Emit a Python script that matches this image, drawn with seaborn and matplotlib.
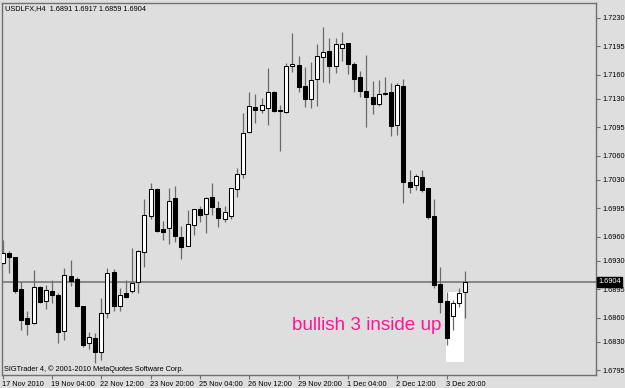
import numpy as np
import matplotlib
matplotlib.use("Agg")
import matplotlib.pyplot as plt
import matplotlib.transforms as mtransforms
from matplotlib import font_manager
from matplotlib.patches import Rectangle
import seaborn as sns

symbol = "USDLFX,H4"

opens = [1.6927, 1.6940, 1.6935, 1.6895, 1.6860, 1.6853, 1.6898, 1.6880, 1.6893, 1.6888,
         1.6843, 1.6911, 1.6908, 1.6874, 1.6829, 1.6835, 1.6818, 1.6866, 1.6916, 1.6874,
         1.6890, 1.6893, 1.6904, 1.6941, 1.6985, 1.7019, 1.6969, 1.6971, 1.7008, 1.6960,
         1.6948, 1.6974, 1.6994, 1.6988, 1.7009, 1.6995, 1.6982, 1.6985, 1.7019, 1.7037,
         1.7089, 1.7120, 1.7116, 1.7119, 1.7139, 1.7116, 1.7114, 1.7171, 1.7172, 1.7146,
         1.7130, 1.7155, 1.7182, 1.7189, 1.7171, 1.7193, 1.7199, 1.7173, 1.7157, 1.7140,
         1.7132, 1.7124, 1.7137, 1.7139, 1.7098, 1.7146, 1.7027, 1.7024, 1.7034, 1.7020,
         1.6985, 1.6901, 1.6880, 1.6862, 1.6878, 1.6891]
highs = [1.6956, 1.6942, 1.6935, 1.6904, 1.6868, 1.6919, 1.6899, 1.6900, 1.6906, 1.6890,
         1.6921, 1.6931, 1.6910, 1.6874, 1.6842, 1.6841, 1.6884, 1.6921, 1.6920, 1.6897,
         1.6906, 1.6946, 1.6943, 1.7006, 1.7026, 1.7020, 1.6979, 1.7020, 1.7023, 1.6973,
         1.6993, 1.6994, 1.6998, 1.7009, 1.7026, 1.7004, 1.6998, 1.7020, 1.7045, 1.7113,
         1.7139, 1.7136, 1.7131, 1.7168, 1.7140, 1.7123, 1.7174, 1.7211, 1.7183, 1.7169,
         1.7176, 1.7198, 1.7219, 1.7205, 1.7205, 1.7213, 1.7199, 1.7176, 1.7165, 1.7184,
         1.7152, 1.7153, 1.7157, 1.7150, 1.7150, 1.7155, 1.7042, 1.7037, 1.7042, 1.7020,
         1.7006, 1.6922, 1.6892, 1.6882, 1.6897, 1.6917]
lows = [1.6926, 1.6915, 1.6890, 1.6845, 1.6839, 1.6852, 1.6878, 1.6871, 1.6878, 1.6829,
        1.6832, 1.6899, 1.6873, 1.6824, 1.6821, 1.6804, 1.6808, 1.6860, 1.6868, 1.6868,
        1.6884, 1.6890, 1.6890, 1.6922, 1.6982, 1.6966, 1.6956, 1.6951, 1.6953, 1.6932,
        1.6948, 1.6962, 1.6978, 1.6964, 1.6987, 1.6972, 1.6978, 1.6982, 1.7009, 1.7032,
        1.7088, 1.7100, 1.7113, 1.7098, 1.7114, 1.7066, 1.7113, 1.7163, 1.7139, 1.7120,
        1.7119, 1.7121, 1.7151, 1.7150, 1.7162, 1.7177, 1.7161, 1.7139, 1.7132, 1.7095,
        1.7111, 1.7121, 1.7135, 1.7084, 1.7085, 1.7002, 1.7014, 1.7018, 1.7015, 1.6982,
        1.6897, 1.6866, 1.6826, 1.6845, 1.6873, 1.6859]
closes = [1.6940, 1.6935, 1.6893, 1.6857, 1.6852, 1.6898, 1.6879, 1.6894, 1.6888, 1.6842,
          1.6913, 1.6905, 1.6874, 1.6826, 1.6836, 1.6818, 1.6866, 1.6915, 1.6874, 1.6888,
          1.6885, 1.6903, 1.6942, 1.6987, 1.7019, 1.6967, 1.6966, 1.7004, 1.6961, 1.6947,
          1.6976, 1.6994, 1.6987, 1.7008, 1.6997, 1.6983, 1.6990, 1.7020, 1.7037, 1.7088,
          1.7121, 1.7116, 1.7123, 1.7139, 1.7115, 1.7115, 1.7171, 1.7173, 1.7145, 1.7130,
          1.7153, 1.7183, 1.7188, 1.7171, 1.7198, 1.7198, 1.7173, 1.7155, 1.7140, 1.7132,
          1.7124, 1.7136, 1.7136, 1.7097, 1.7147, 1.7027, 1.7021, 1.7035, 1.7018, 1.6984,
          1.6900, 1.6879, 1.6835, 1.6878, 1.6890, 1.6904]

time_tick_bars = [0, 8, 16, 24, 32, 40, 48, 56, 64, 72]
time_tick_labels = ["17 Nov 2010", "19 Nov 04:00", "22 Nov 12:00", "23 Nov 20:00",
                    "25 Nov 04:00", "26 Nov 12:00", "29 Nov 20:00", "1 Dec 04:00",
                    "2 Dec 12:00", "3 Dec 20:00"]
price_ticks = [1.7230, 1.7195, 1.7160, 1.7130, 1.7095, 1.7060, 1.7030,
               1.6995, 1.6960, 1.6930, 1.6895, 1.6860, 1.6830, 1.6795]
current_price = 1.6904
pattern_text = "bullish 3 inside up"
copyright_text = "SIGTrader 4, \u00a9 2001-2010 MetaQuotes Software Corp."

bg = "#DEDEDE"
sns.set_style("white", {"axes.facecolor": bg, "figure.facecolor": bg,
                        "axes.edgecolor": "#707070"})
plt.rcParams['font.family'] = ['Liberation Sans', 'DejaVu Sans']

installed = {f.name for f in font_manager.fontManager.ttflist}
if "Liberation Sans Narrow" in installed:
    small_family = ["Liberation Sans Narrow", "Liberation Sans"]
    small_size = 6.4
else:
    small_family = ["Liberation Sans", "DejaVu Sans"]
    small_size = 5.3

fig = plt.figure(figsize=(6.25, 3.88), dpi=100)
ax = fig.add_axes([2 / 625, 13 / 388, 594 / 625, 372.5 / 388])

o = np.array(opens); h = np.array(highs); l = np.array(lows); c = np.array(closes)
x = np.arange(len(o))

# highlight rectangle behind the 3 inside up pattern
ax.add_patch(Rectangle((71.9, 1.68052), 2.95, 1.6892 - 1.68052,
                       facecolor="white", edgecolor="none", zorder=1))

ax.axhline(current_price, color="#707070", lw=1.1, zorder=1.5)

ax.vlines(x, l, h, color="#6a6a6a", lw=0.9, zorder=2)
bottoms = np.minimum(o, c)
heights = np.maximum(np.abs(c - o), 0.00003)
colors = ["white" if cc > oo else "black" for oo, cc in zip(o, c)]
ax.bar(x, heights, bottom=bottoms, width=0.65, color=colors,
       edgecolor="black", linewidth=0.75, zorder=3)

ax.set_xlim(-0.114, 96.25)
ax.set_ylim(1.67891, 1.72491)

ax.yaxis.tick_right()
ax.set_yticks(price_ticks)
ax.set_yticklabels([f"{p:.4f}" for p in price_ticks])
ax.tick_params(axis="y", right=True, left=False, length=3, width=0.8,
               color="#707070", pad=1.5, labelcolor="black")
ax.set_xticks(time_tick_bars)
ax.set_xticklabels(time_tick_labels)
ax.tick_params(axis="x", bottom=True, length=3, width=0.8, color="#707070",
               pad=1.0, labelcolor="black")
offset = mtransforms.ScaledTranslation(-1 / 100, 0, fig.dpi_scale_trans)
for lab in ax.get_xticklabels():
    lab.set_ha("left")
    lab.set_transform(lab.get_transform() + offset)
for lab in ax.get_xticklabels() + ax.get_yticklabels():
    lab.set_family(small_family)
    lab.set_fontsize(small_size)

for s in ax.spines.values():
    s.set_color("#707070")
    s.set_linewidth(1.0)

fig.text(5 / 625, 1 - 9 / 388,
         f"{symbol}  {opens[-1]:.4f} {highs[-1]:.4f} {lows[-1]:.4f} {closes[-1]:.4f}",
         fontsize=small_size, family=small_family, va="center", ha="left", color="black")
ax.text(4 / 594 - 0.0034, 1.6795 + 0.00012, copyright_text,
        transform=mtransforms.blended_transform_factory(ax.transAxes, ax.transData),
        fontsize=small_size, family=small_family, va="center", ha="left",
        color="black", zorder=5)

ax.text(46.9, 1.68447, pattern_text, fontsize=13.6, color="#FF1493",
        ha="left", va="baseline", zorder=5)

ax.annotate(f"{current_price:.4f}", xy=(1.004, current_price),
            xycoords=("axes fraction", "data"), fontsize=small_size,
            family=small_family, color="white",
            ha="left", va="center", annotation_clip=False, zorder=6,
            bbox=dict(boxstyle="square,pad=0.2", facecolor="black", edgecolor="black"))

fig.savefig("out.png", dpi=100, facecolor=bg)
